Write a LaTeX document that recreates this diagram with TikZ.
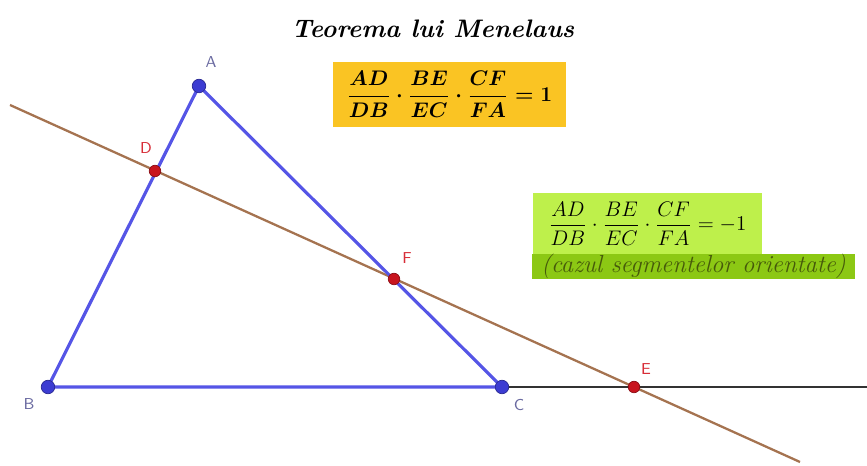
\documentclass[tikz,border=0pt]{standalone}
\usepackage{amsmath,amssymb}
\usepackage{xcolor}
\usepackage{tikz}
\usetikzlibrary{calc}
\definecolor{trianglecolor}{RGB}{85,85,230}
\definecolor{vertexcolor}{RGB}{60,60,210}
\definecolor{vertexlabel}{RGB}{105,105,160}
\definecolor{secantcolor}{RGB}{165,115,80}
\definecolor{pointcolor}{RGB}{200,20,30}
\definecolor{pointlabel}{RGB}{215,45,55}
\definecolor{goldcolor}{RGB}{250,196,35}
\definecolor{lightgreen}{RGB}{190,240,75}
\definecolor{darkgreen}{RGB}{140,200,20}
\definecolor{notecolor}{RGB}{70,90,10}
\definecolor{rulecolor}{RGB}{50,50,50}

\begin{document}
\begin{tikzpicture}[x=0.2mm,y=-0.2mm, every node/.style={font=\small}]
\tikzset{vertex/.style={circle,fill=vertexcolor,draw=vertexcolor!70!black,inner sep=0pt,minimum size=0.27cm},
  cut/.style={circle,fill=pointcolor,draw=pointcolor!70!black,inner sep=0pt,minimum size=0.23cm},
  vlabel/.style={font=\sffamily\small,text=vertexlabel},
  plabel/.style={font=\sffamily\small,text=pointlabel},
  formula/.style={inner sep=3pt}}
\useasboundingbox (0,0) rectangle (867,466);

% lines first
\coordinate (s1) at (10,105);
\coordinate (s2) at (800,462);
\coordinate (r1) at (867,387);
\draw[secantcolor,line width=1.3pt] (s1)--(s2);

\coordinate (A) at (199,86);
\coordinate (B) at (48,387);
\coordinate (C) at (502,387);
\coordinate (D) at (155,171);
\coordinate (F) at (394,279);
\coordinate (E) at (634,387);

\draw[rulecolor,line width=1.6pt] (C)--(r1);
\draw[trianglecolor,line width=1.8pt] (A)--(B)--(C)--cycle;
\node[vertex] (pa) at (A) {};
\node[vertex] (pb) at (B) {};
\node[vertex] (pc) at (C) {};
\node[cut] (pd) at (D) {};
\node[cut] (pf) at (F) {};
\node[cut] (pe) at (E) {};

\node[vlabel] (la) at (211,62)  {A};
\node[vlabel] (lb) at (29,404)  {B};
\node[vlabel] (lc) at (519,405) {C};
\node[plabel] (ld) at (146,148) {D};
\node[plabel] (lf) at (407,258) {F};
\node[plabel] (le) at (646,369) {E};

\node[font=\Large\bfseries\itshape] (title) at (433,29) {Teorema lui Menelaus};

\node[formula,fill=goldcolor,minimum width=4.66cm,minimum height=1.3cm,font=\fontsize{12.6}{15}\selectfont\boldmath] (eq1) at (449.5,94.5) {$\dfrac{AD}{DB}\cdot\dfrac{BE}{EC}\cdot\dfrac{CF}{FA}=1$};
\node[formula,fill=lightgreen,minimum width=4.58cm,minimum height=1.22cm,inner sep=1pt,font=\fontsize{12.4}{15}\selectfont] (eq2) at (647.5,223.5) {$\dfrac{AD}{DB}\cdot\dfrac{BE}{EC}\cdot\dfrac{CF}{FA}=-1$};
\node[formula,fill=darkgreen,minimum width=6.46cm,minimum height=0.42cm,text=notecolor,font=\fontsize{14}{15}\selectfont\itshape,inner sep=0pt] (note) at (693.5,266.5) {(cazul segmentelor orientate)};
\end{tikzpicture}
\end{document}
